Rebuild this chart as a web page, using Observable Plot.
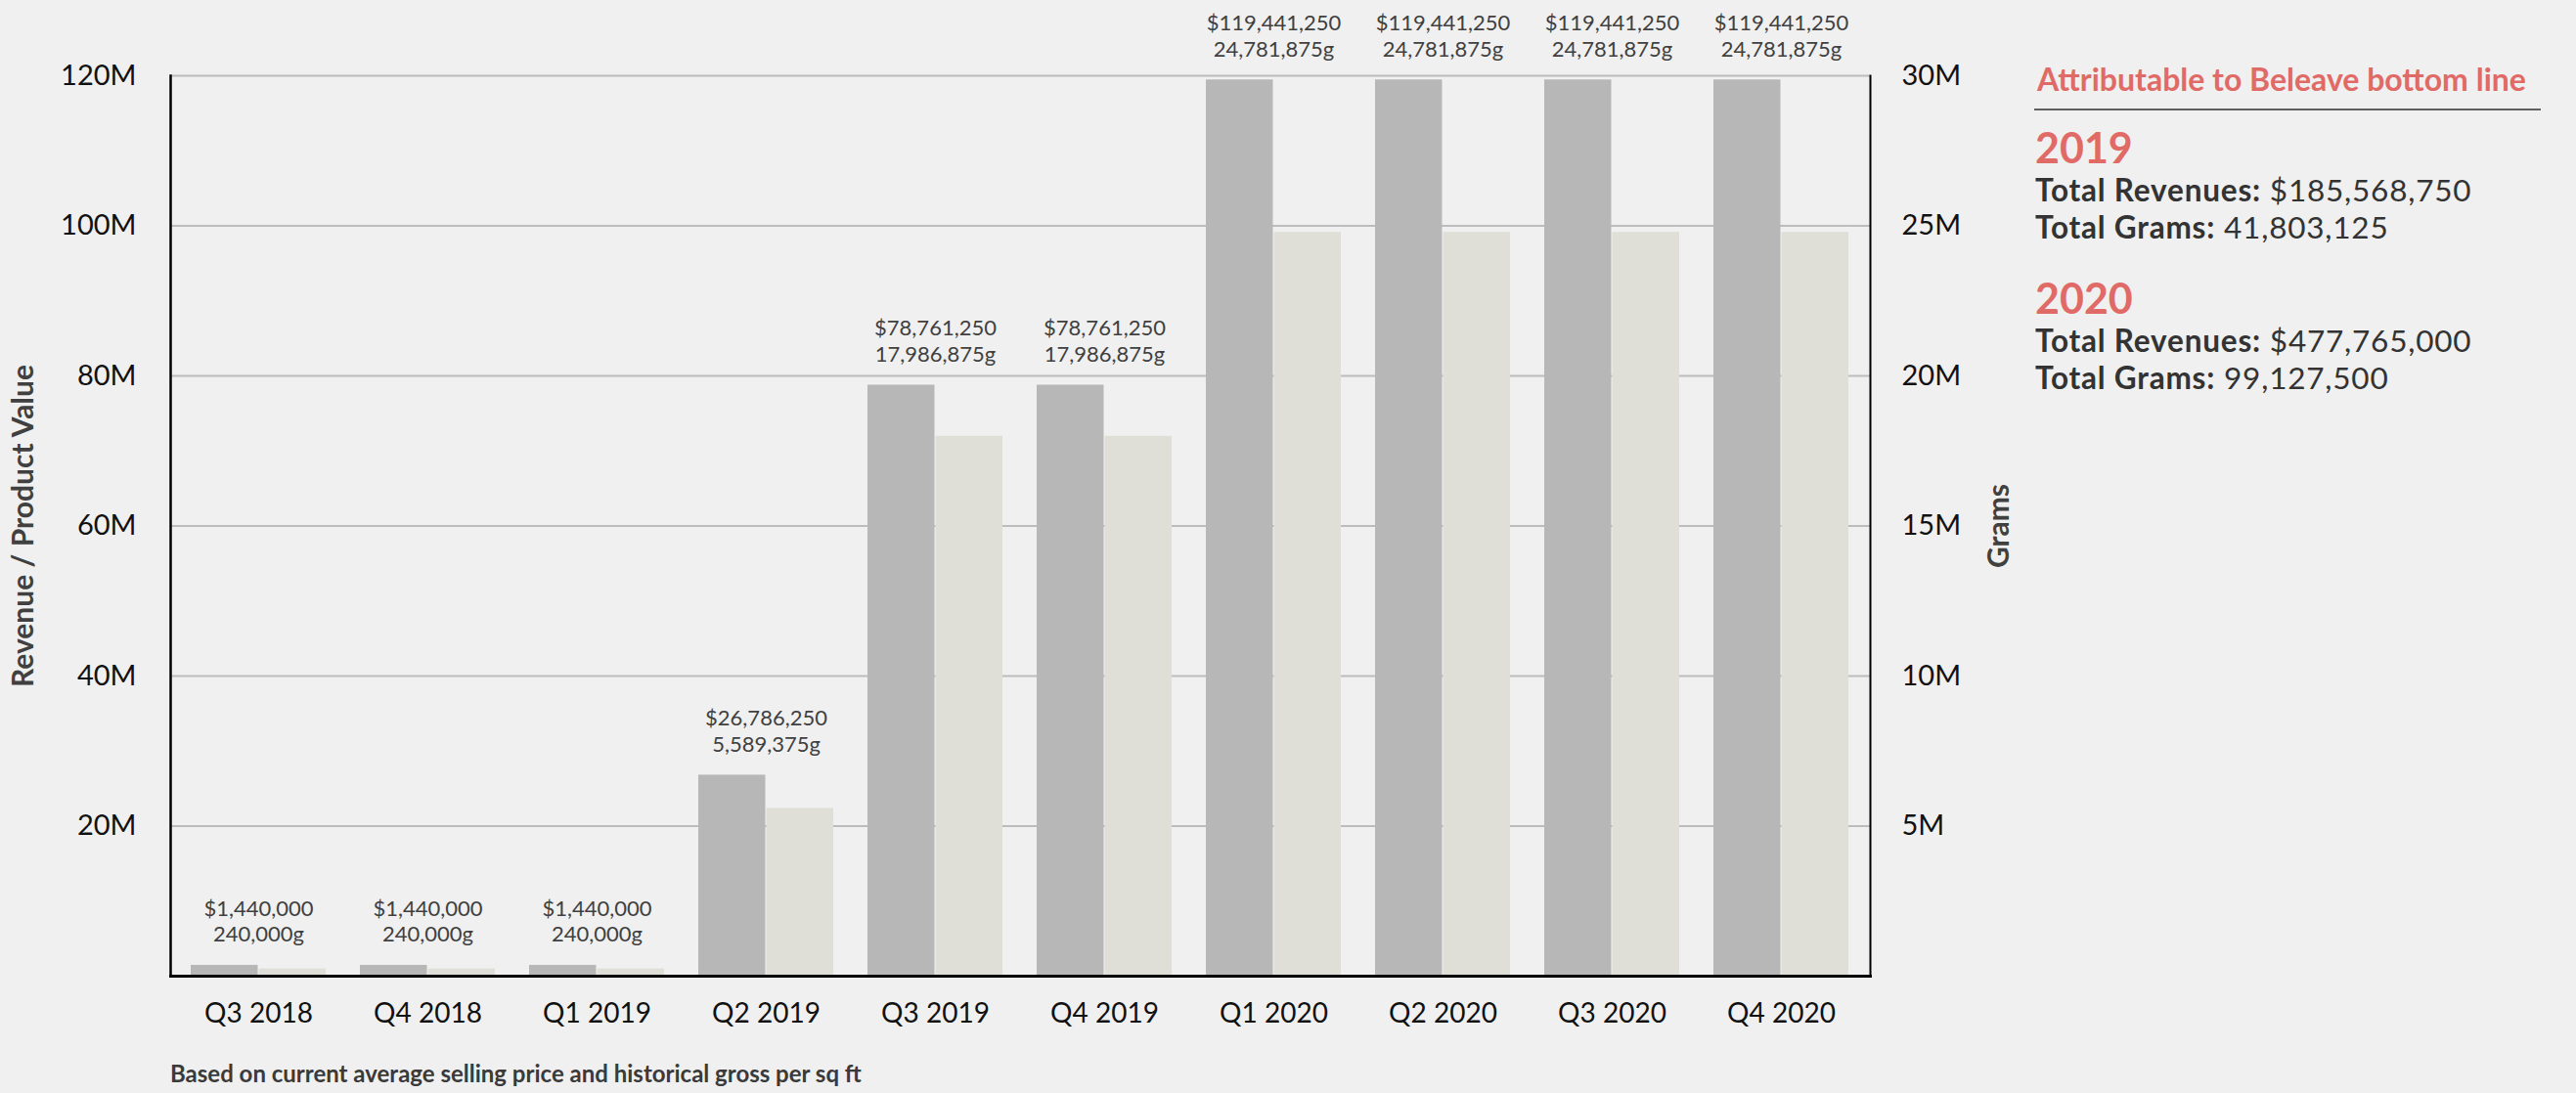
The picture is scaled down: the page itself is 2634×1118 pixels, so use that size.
<!DOCTYPE html>
<html>
<head>
<meta charset="utf-8">
<script src="https://cdn.jsdelivr.net/npm/d3@7"></script>
<script src="https://cdn.jsdelivr.net/npm/@observablehq/plot@0.6"></script>
<style>
  html, body { margin: 0; padding: 0; background: #f0f0f0; }
  body { width: 2634px; height: 1118px; position: relative; overflow: hidden; font-family: Lato, "Open Sans", sans-serif; }
  #chart { position: absolute; left: 0; top: 0; }
  #chart svg { overflow: visible; background: transparent; }
  g[aria-label="y-axis label"] text { font-weight: 700; font-size: 30px; fill: #404040; }
  #caption { position: absolute; left: 174px; top: 1086px; font-size: 24px; font-weight: 700; color: #3a3a3a; line-height: 1; white-space: nowrap; }
  .p { position: absolute; left: 2081px; line-height: 1; white-space: nowrap; }
  .ttl { font-size: 32px; font-weight: 700; color: #e06a66; left: 2083px; }
  .rule { position: absolute; left: 2080px; width: 518px; height: 0; border-top: 2px solid #606060; }
  .yr { font-size: 43px; font-weight: 700; color: #e06a66; }
  .tot { font-size: 31.5px; line-height: 38px; letter-spacing: 0.8px; color: #333; }
  .tot b { font-weight: 700; }
</style>
</head>
<body>
<div id="chart"></div>
<div id="caption"></div>
<div id="panel"></div>
<script>
// ---- data ----
const quarters = ["Q3 2018", "Q4 2018", "Q1 2019", "Q2 2019", "Q3 2019", "Q4 2019", "Q1 2020", "Q2 2020", "Q3 2020", "Q4 2020"];
const revenue = [1440000, 1440000, 1440000, 26786250, 78761250, 78761250, 119441250, 119441250, 119441250, 119441250];
const grams = [240000, 240000, 240000, 5589375, 17986875, 17986875, 24781875, 24781875, 24781875, 24781875];
const revenueTicks = [20e6, 40e6, 60e6, 80e6, 100e6, 120e6];
const gramsTicks = [5e6, 10e6, 15e6, 20e6, 25e6, 30e6];
const revenueMax = 120e6;
const gramsMax = 30e6;
const yLabelLeft = "Revenue / Product Value";
const yLabelRight = "Grams";
const captionText = "Based on current average selling price and historical gross per sq ft";
const panelTitle = "Attributable to Beleave bottom line";
const totalYears = ["2019", "2020"];
const totalRevenues = [185568750, 477765000];
const totalGrams = [41803125, 99127500];

// ---- build ----
const ratio = revenueMax / gramsMax;
const fmtMoney = d3.format("$,");
const fmtNum = d3.format(",");
const rows = quarters.map((q, i) => ({quarter: q, revenue: revenue[i], grams: grams[i], gramsScaled: grams[i] * ratio}));

const width = 2634, height = 1060;
const marginLeft = 174, marginRight = 722, marginTop = 77, marginBottom = 62;
const paddingInner = 0.2, paddingOuter = 0.1;
const step = (width - marginLeft - marginRight) / (quarters.length - paddingInner + 2 * paddingOuter);
const half = step * (1 - paddingInner) / 2;

const chart = Plot.plot({
  width, height, marginLeft, marginRight, marginTop, marginBottom,
  style: {background: "transparent", fontFamily: "Lato, 'Open Sans', sans-serif", overflow: "visible"},
  x: {domain: quarters, paddingInner, paddingOuter},
  y: {domain: [0, revenueMax]},
  marks: [
    Plot.ruleY(revenueTicks, {stroke: "#bcbcbc", strokeWidth: 2}),
    Plot.barY(rows, {x: "quarter", y: "revenue", fill: "#b7b7b7", insetRight: half, insetLeft: 0}),
    Plot.barY(rows, {x: "quarter", y: "gramsScaled", fill: "#dfdfd8", insetLeft: half, insetRight: 0}),
    Plot.frame({anchor: "left", stroke: "#000", strokeWidth: 2.5}),
    Plot.frame({anchor: "right", stroke: "#000", strokeWidth: 2}),
    Plot.frame({anchor: "bottom", stroke: "#000", strokeWidth: 3}),
    Plot.text(rows, {x: "quarter", y: "revenue", text: d => `${fmtMoney(d.revenue)}\n${fmtNum(d.grams)}g`, lineAnchor: "bottom", dy: -24, fontSize: 22, fill: "#404040", lineHeight: 1.22}),
    Plot.axisX({tickSize: 0, tickPadding: 28, fontSize: 28, fill: "#111", label: null}),
    Plot.axisY({anchor: "left", ticks: revenueTicks, tickFormat: d => d / 1e6 + "M", tickSize: 0, tickPadding: 35, fontSize: 29, fill: "#111",
      label: yLabelLeft, labelAnchor: "center", labelArrow: "none", labelOffset: 162}),
    Plot.axisY({anchor: "right", ticks: revenueTicks, tickFormat: d => (d / ratio) / 1e6 + "M", tickSize: 0, tickPadding: 32, fontSize: 29, fill: "#111",
      label: yLabelRight, labelAnchor: "center", labelArrow: "none", labelOffset: 141})
  ]
});
document.getElementById("chart").appendChild(chart);
document.getElementById("caption").textContent = captionText;

// ---- side panel ----
const panel = document.getElementById("panel");
function add(cls, top, html) {
  const el = document.createElement("div");
  el.className = cls;
  el.style.top = top + "px";
  el.innerHTML = html;
  panel.appendChild(el);
}
add("p ttl", 65, panelTitle);
add("rule", 111, "");
const yearTops = [129, 283];
totalYears.forEach((yr, i) => {
  const t = yearTops[i];
  add("p yr", t, yr);
  add("p tot", t + 46,
    `<b>Total Revenues:</b> ${fmtMoney(totalRevenues[i])}<br><b>Total Grams:</b> ${fmtNum(totalGrams[i])}`);
});
</script>
</body>
</html>
